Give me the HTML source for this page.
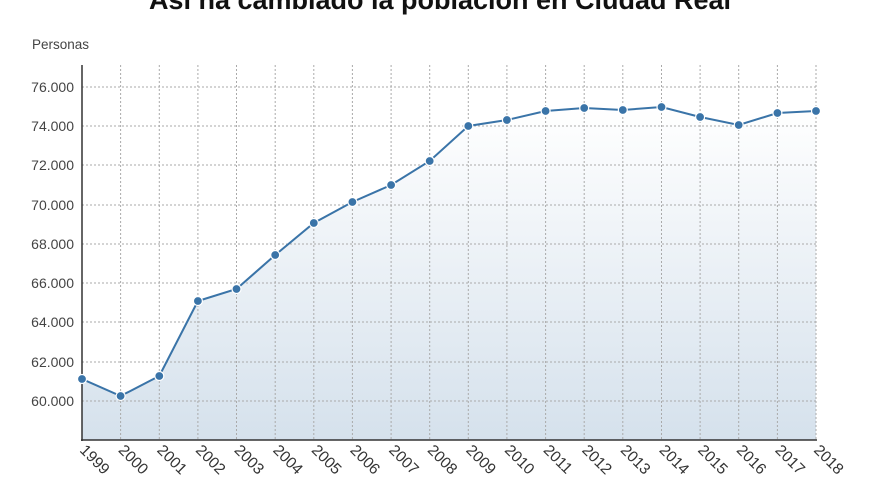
<!DOCTYPE html>
<html><head><meta charset="utf-8"><style>
body{margin:0;background:#fff;width:880px;height:495px;overflow:hidden}
svg text{font-family:"Liberation Sans",sans-serif}
</style></head><body>
<svg width="880" height="495" viewBox="0 0 880 495">
<defs><linearGradient id="g" x1="0" y1="0" x2="0" y2="1">
<stop offset="0" stop-color="#ffffff"/><stop offset="1" stop-color="#d5e1ec"/></linearGradient></defs>
<text x="440" y="9" text-anchor="middle" font-size="27" font-weight="bold" fill="#111">Así ha cambiado la población en Ciudad Real</text>
<text x="32" y="49" font-size="13.5" fill="#444">Personas</text>
<polygon fill="url(#g)" points="82,440 82,379 120.6,396 159.3,376 197.9,301 236.5,289 275.2,255 313.8,223 352.4,202 391.1,185 429.7,161 468.3,126 506.9,120 545.6,111 584.2,108 622.8,110 661.5,107 700.1,117 738.7,125 777.4,113 816,111 816,440"/>
<g stroke="#aaa" stroke-dasharray="2,2" stroke-width="1">
<line x1="82" x2="816" y1="87" y2="87"/><line x1="82" x2="816" y1="126" y2="126"/><line x1="82" x2="816" y1="165" y2="165"/><line x1="82" x2="816" y1="205" y2="205"/><line x1="82" x2="816" y1="244" y2="244"/><line x1="82" x2="816" y1="283" y2="283"/><line x1="82" x2="816" y1="322" y2="322"/><line x1="82" x2="816" y1="362" y2="362"/><line x1="82" x2="816" y1="401" y2="401"/>
<line x1="120.6" x2="120.6" y1="65" y2="440"/><line x1="159.3" x2="159.3" y1="65" y2="440"/><line x1="197.9" x2="197.9" y1="65" y2="440"/><line x1="236.5" x2="236.5" y1="65" y2="440"/><line x1="275.2" x2="275.2" y1="65" y2="440"/><line x1="313.8" x2="313.8" y1="65" y2="440"/><line x1="352.4" x2="352.4" y1="65" y2="440"/><line x1="391.1" x2="391.1" y1="65" y2="440"/><line x1="429.7" x2="429.7" y1="65" y2="440"/><line x1="468.3" x2="468.3" y1="65" y2="440"/><line x1="506.9" x2="506.9" y1="65" y2="440"/><line x1="545.6" x2="545.6" y1="65" y2="440"/><line x1="584.2" x2="584.2" y1="65" y2="440"/><line x1="622.8" x2="622.8" y1="65" y2="440"/><line x1="661.5" x2="661.5" y1="65" y2="440"/><line x1="700.1" x2="700.1" y1="65" y2="440"/><line x1="738.7" x2="738.7" y1="65" y2="440"/><line x1="777.4" x2="777.4" y1="65" y2="440"/><line x1="816" x2="816" y1="65" y2="440"/>
</g>
<line x1="82" x2="82" y1="65" y2="441" stroke="#333" stroke-width="1.5"/>
<line x1="81" x2="817" y1="440" y2="440" stroke="#333" stroke-width="1.5"/>
<g font-size="14" fill="#444" text-anchor="end">
<text x="74" y="92">76.000</text><text x="74" y="131">74.000</text><text x="74" y="170">72.000</text><text x="74" y="210">70.000</text><text x="74" y="249">68.000</text><text x="74" y="288">66.000</text><text x="74" y="327">64.000</text><text x="74" y="367">62.000</text><text x="74" y="406">60.000</text>
</g>
<polyline fill="none" stroke="#3a74a8" stroke-width="2" points="82,379 120.6,396 159.3,376 197.9,301 236.5,289 275.2,255 313.8,223 352.4,202 391.1,185 429.7,161 468.3,126 506.9,120 545.6,111 584.2,108 622.8,110 661.5,107 700.1,117 738.7,125 777.4,113 816,111"/>
<g fill="#3a74a8" stroke="#fff" stroke-width="1.2">
<circle cx="82" cy="379" r="4.5"/><circle cx="120.6" cy="396" r="4.5"/><circle cx="159.3" cy="376" r="4.5"/><circle cx="197.9" cy="301" r="4.5"/><circle cx="236.5" cy="289" r="4.5"/><circle cx="275.2" cy="255" r="4.5"/><circle cx="313.8" cy="223" r="4.5"/><circle cx="352.4" cy="202" r="4.5"/><circle cx="391.1" cy="185" r="4.5"/><circle cx="429.7" cy="161" r="4.5"/><circle cx="468.3" cy="126" r="4.5"/><circle cx="506.9" cy="120" r="4.5"/><circle cx="545.6" cy="111" r="4.5"/><circle cx="584.2" cy="108" r="4.5"/><circle cx="622.8" cy="110" r="4.5"/><circle cx="661.5" cy="107" r="4.5"/><circle cx="700.1" cy="117" r="4.5"/><circle cx="738.7" cy="125" r="4.5"/><circle cx="777.4" cy="113" r="4.5"/><circle cx="816" cy="111" r="4.5"/>
</g>
<g font-size="15.5" fill="#333">
<text transform="translate(79,451) rotate(45)">1999</text><text transform="translate(117.6,451) rotate(45)">2000</text><text transform="translate(156.3,451) rotate(45)">2001</text><text transform="translate(194.9,451) rotate(45)">2002</text><text transform="translate(233.5,451) rotate(45)">2003</text><text transform="translate(272.2,451) rotate(45)">2004</text><text transform="translate(310.8,451) rotate(45)">2005</text><text transform="translate(349.4,451) rotate(45)">2006</text><text transform="translate(388.1,451) rotate(45)">2007</text><text transform="translate(426.7,451) rotate(45)">2008</text><text transform="translate(465.3,451) rotate(45)">2009</text><text transform="translate(503.9,451) rotate(45)">2010</text><text transform="translate(542.6,451) rotate(45)">2011</text><text transform="translate(581.2,451) rotate(45)">2012</text><text transform="translate(619.8,451) rotate(45)">2013</text><text transform="translate(658.5,451) rotate(45)">2014</text><text transform="translate(697.1,451) rotate(45)">2015</text><text transform="translate(735.7,451) rotate(45)">2016</text><text transform="translate(774.4,451) rotate(45)">2017</text><text transform="translate(813,451) rotate(45)">2018</text>
</g>
</svg>
</body></html>
